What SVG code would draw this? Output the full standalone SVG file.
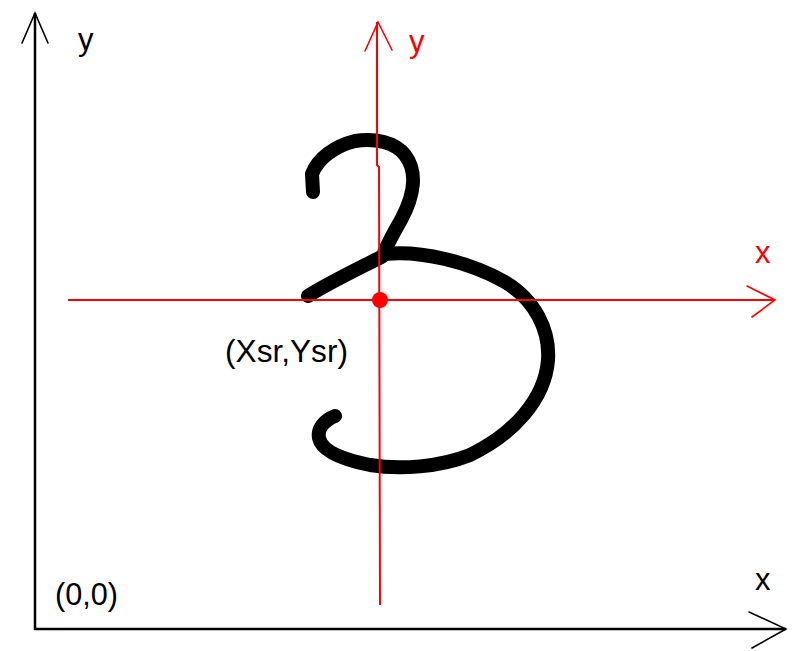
<svg xmlns="http://www.w3.org/2000/svg" width="798" height="651" viewBox="0 0 798 651">
<style>
.txt{font-family:"Liberation Sans",Arial,sans-serif;font-size:31px}
.blk{fill:#000}
.red{fill:#ff0000}
.axb{stroke:#000;stroke-width:2.5;fill:none}
.axr{stroke:#ff0000;stroke-width:2;fill:none}
.hb{stroke:#000;stroke-width:1.6;fill:none;stroke-linecap:round}
.hr{stroke:#ff0000;stroke-width:1.6;fill:none;stroke-linecap:round}
.digit{stroke:#000;stroke-width:14;fill:none;stroke-linecap:round;stroke-linejoin:round}
</style>
<rect width="798" height="651" fill="#fff"/>
<g id="world-axes">
<path class="axb" d="M35,13 L35,629 L786,629"/>
<path class="hb" d="M22,43 L35,13 L48,43"/>
<path class="hb" d="M749,612 L786,629 L752,648"/>
<text class="txt blk" x="78" y="50">y</text>
<text class="txt blk" x="755" y="590">x</text>
<text class="txt blk" x="55" y="605" textLength="63" lengthAdjust="spacingAndGlyphs">(0,0)</text>
</g>
<g id="digit-three">
<path class="digit" d="M313,192 L312,174 C318,158 335,146 355,141 C375,138 395,142 405,155 C418,172 414,196 401,220 C393,234 386,246 383,256 C360,268 330,282 308,296"/>
<path class="digit" d="M385,254 C420,250 470,262 505,282 C535,300 550,330 548,360 C545,400 512,435 470,455 C440,467 400,470 370,465 C345,460 322,452 319,438 C317,428 325,420 335,416"/>
</g>
<g id="local-axes">
<path class="axr" d="M377,22 L377,165 L379,167 L380,605"/>
<path class="axr" d="M68,300 L775,300"/>
<path class="hr" d="M365,51 L378,22 L392,50"/>
<path class="hr" d="M747,286 L775,300 L752,317"/>
<circle cx="380" cy="300" r="8" fill="#ff0000"/>
<text class="txt red" x="409" y="52">y</text>
<text class="txt red" x="755" y="263">x</text>
<text class="txt blk" x="225" y="362" textLength="123" lengthAdjust="spacingAndGlyphs">(Xsr,Ysr)</text>
</g>
</svg>
